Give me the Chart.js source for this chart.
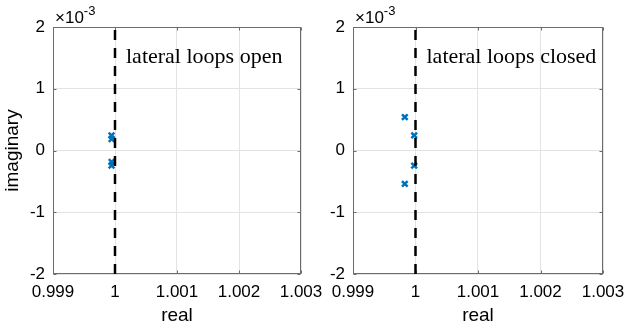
<!DOCTYPE html>
<html>
<head>
<meta charset="utf-8">
<script src="https://cdn.jsdelivr.net/npm/chart.js@4"></script>
<style>
	body { margin: 0; background: #fff; width: 625px; height: 336px; position: relative; overflow: hidden; }
	.plot { position: absolute; top: 0; height: 336px; }
</style>
</head>
<body>
<div class="plot" style="left:0px;width:330px"><canvas id="openChart" width="330" height="336"></canvas></div>
<div class="plot" style="left:300px;width:325px"><canvas id="closedChart" width="325" height="336"></canvas></div>
<script>
// axis ticks
const xTicks = [0.999, 1, 1.001, 1.002, 1.003];
const yTicks = [-2, -1, 0, 1, 2]; // in units of 10^-3

// dashed stability boundary at real = 1
const boundaryX = [1, 1];
const boundaryY = [-0.002, 0.002];

// eigenvalues, lateral loops open
const openReal = [0.999944, 0.999946, 0.999946, 0.999944];
const openImag = [0.000243, 0.000186, -0.000186, -0.000243];

// eigenvalues, lateral loops closed
const closedReal = [0.999829, 0.999979, 0.999979, 0.999829];
const closedImag = [0.000540, 0.000245, -0.000245, -0.000540];

const sans = 'Liberation Sans, Arial, Helvetica, sans-serif';
const boxColor = '#6c6c6c';

function framePlugin(note) {
	return {
		id: 'frame',
		beforeDatasetsDraw(chart) {
			const {ctx, chartArea: a, scales: {x, y}} = chart;
			ctx.save();
			ctx.strokeStyle = boxColor;
			ctx.lineWidth = 1;
			let l = Math.round(a.left) + 0.5, r = Math.round(a.right) - 0.5;
			let t = Math.round(a.top) + 0.5, b = Math.round(a.bottom) - 0.5;
			ctx.strokeRect(l, t, r - l, b - t);
			// MATLAB style inward ticks
			ctx.beginPath();
			xTicks.forEach((v) => {
				let px = Math.round(x.getPixelForValue(v)) + 0.5;
				ctx.moveTo(px, t); ctx.lineTo(px, t + 3);
				ctx.moveTo(px, b); ctx.lineTo(px, b - 3);
			});
			yTicks.forEach((v) => {
				let py = Math.round(y.getPixelForValue(v * 1e-3)) + 0.5;
				ctx.moveTo(l, py); ctx.lineTo(l + 3, py);
				ctx.moveTo(r, py); ctx.lineTo(r - 3, py);
			});
			ctx.stroke();
			ctx.restore();
		},
		afterDraw(chart) {
			const {ctx, chartArea: a, scales: {x}} = chart;
			ctx.save();
			ctx.fillStyle = '#000';
			ctx.textBaseline = 'alphabetic';
			ctx.textAlign = 'left';
			// exponent label
			ctx.font = '17px ' + sans;
			ctx.fillText('\u00d710', a.left + 2, 23);
			let w = ctx.measureText('\u00d710').width;
			ctx.font = '13px ' + sans;
			ctx.fillText('-3', a.left + 2 + w, 15);
			// annotation
			ctx.font = '22px "Liberation Serif", "Times New Roman", serif';
			ctx.fillText(note, x.getPixelForValue(1) + 11, 63);
			ctx.restore();
		}
	};
}

function makeChart(id, real, imag, note, showYTitle, padRight) {
	let points = real.map((v, i) => ({x: v, y: imag[i]}));
	let boundary = boundaryX.map((v, i) => ({x: v, y: boundaryY[i]}));
	return new Chart(document.getElementById(id), {
		type: 'scatter',
		data: {
			datasets: [
				{
					data: boundary,
					showLine: true,
					borderColor: '#000',
					borderWidth: 2.5,
					borderDash: [10, 8],
					pointRadius: 0,
					fill: false
				},
				{
					data: points,
					pointStyle: 'crossRot',
					pointRadius: 4,
					borderColor: '#0072bd',
					backgroundColor: '#0072bd',
					pointBorderWidth: 2.5
				}
			]
		},
		options: {
			responsive: false,
			animation: false,
			devicePixelRatio: 1,
			layout: { padding: { left: 0, top: 27, right: padRight, bottom: 9 } },
			plugins: { legend: { display: false }, tooltip: { enabled: false } },
			scales: {
				x: {
					type: 'linear',
					min: 0.999,
					max: 1.003,
					afterBuildTicks: (scale) => { scale.ticks = xTicks.map((v) => ({value: v})); },
					afterFit: (scale) => { scale.height = 53; scale.paddingLeft = 0; scale.paddingRight = 0; },
					ticks: {
						color: '#000',
						padding: 8,
						maxRotation: 0,
						autoSkip: false,
						font: { family: sans, size: 17 },
						callback: (v) => String(parseFloat(Number(v).toFixed(3)))
					},
					grid: { color: '#e3e3e3', drawTicks: false },
					border: { display: false },
					title: {
						display: true,
						text: 'real',
						color: '#000',
						padding: { top: 0, bottom: 0 },
						font: { family: sans, size: 19 }
					}
				},
				y: {
					type: 'linear',
					min: -0.002,
					max: 0.002,
					afterBuildTicks: (scale) => { scale.ticks = yTicks.map((v) => ({value: v * 1e-3})); },
					afterFit: (scale) => { scale.width = 53; scale.paddingTop = 0; scale.paddingBottom = 0; },
					ticks: {
						color: '#000',
						padding: 8,
						autoSkip: false,
						font: { family: sans, size: 17 },
						callback: (v) => String(Math.round(v * 1000))
					},
					grid: { color: '#e3e3e3', drawTicks: false },
					border: { display: false },
					title: {
						display: showYTitle,
						text: 'imaginary',
						color: '#000',
						padding: { top: 1, bottom: 0 },
						font: { family: sans, size: 19 }
					}
				}
			}
		},
		plugins: [framePlugin(note)]
	});
}

let openChart = makeChart('openChart', openReal, openImag, 'lateral loops open', true, 29);
let closedChart = makeChart('closedChart', closedReal, closedImag, 'lateral loops closed', false, 22);
</script>
</body>
</html>
